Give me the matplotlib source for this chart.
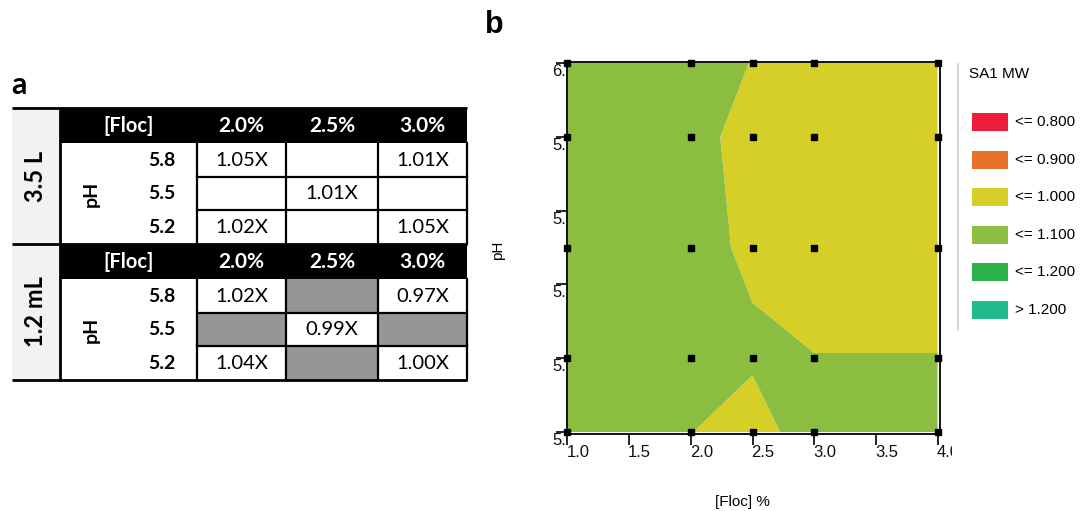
import matplotlib
matplotlib.use("Agg")
import matplotlib.pyplot as plt
import numpy as np
from matplotlib.patches import Rectangle
from matplotlib.transforms import offset_copy, Bbox

# ---------------- data ----------------
# Table (panel a): fold change in SA1 MW per scale, pH row and flocculant column
floc_cols = ["2.0%", "2.5%", "3.0%"]
ph_rows = ["5.8", "5.5", "5.2"]
scales = ["3.5 L", "1.2 mL"]
fold_3p5L = [["1.05X", "", "1.01X"],
             ["", "1.01X", ""],
             ["1.02X", "", "1.05X"]]
# None marks a condition that was not run (grey cell)
fold_1p2mL = [["1.02X", None, "0.97X"],
              [None, "0.99X", None],
              ["1.04X", None, "1.00X"]]

# Contour (panel b): SA1 MW response over the design grid
floc_pct = [1.0, 2.0, 2.5, 3.0, 4.0]
ph_grid = [5.0, 5.2, 5.5, 5.8, 6.0]
sa1_mw = [  # one row per pH (5.0 -> 6.0), one column per [Floc] %
    [1.060, 1.0014, 0.9665, 1.041, 1.040],
    [1.060, 1.040, 1.010, 1.002, 1.002],
    [1.060, 1.0186, 0.990, 0.960, 0.960],
    [1.060, 1.020, 0.978, 0.970, 0.965],
    [1.060, 1.047, 0.997, 0.960, 0.960],
]
level_edges = [0.7, 0.8, 0.9, 1.0, 1.1, 1.2, 1.3]
level_colors = ["#EE1C3B", "#E8722A", "#D6CF27", "#8BBD40", "#2BB24B", "#20BB8C"]
level_labels = ["<= 0.800", "<= 0.900", "<= 1.000", "<= 1.100", "<= 1.200", "> 1.200"]
x_ticks = [1.0, 1.5, 2.0, 2.5, 3.0, 3.5, 4.0]
x_ticklabels = ["1.0", "1.5", "2.0", "2.5", "3.0", "3.5", "4.0"]
y_ticks = [5.0, 5.2, 5.4, 5.6, 5.8, 6.0]
y_ticklabels = ["5.0", "5.2", "5.4", "5.6", "5.8", "6.0"]

W, H = 1080, 511
fig = plt.figure(figsize=(W / 100, H / 100), dpi=100)
fig.patch.set_facecolor("white")

TF = ["Lato", "DejaVu Sans"]
AF = ["Liberation Sans", "DejaVu Sans"]

# ---------------- panel b: contour ----------------
L, R, B, T = 567.5, 940.0, 433.5, 61.9
ax = fig.add_axes([L / W, (H - B) / H, (R - L) / W, (B - T) / H])
Xg, Yg = np.meshgrid(floc_pct, ph_grid)
Z = np.array(sa1_mw)
ax.contourf(Xg, Yg, Z, levels=level_edges, colors=level_colors, antialiased=True)
ax.plot(Xg.ravel(), Yg.ravel(), "s", ms=4.2, color="black", clip_on=False, zorder=5)
ax.set_xlim(1.0, 4.02)
ax.set_ylim(4.996, 6.003)
for s in ax.spines.values():
    s.set_linewidth(1.3)
    s.set_color("black")
ax.set_xticks(x_ticks)
ax.set_yticks(y_ticks)
ax.set_xticklabels([])
ax.set_yticklabels([])
ax.tick_params(axis="both", direction="out", length=8, width=1.2, color="black")

clip = Bbox.from_extents(0, 0, 952, H)
xt = offset_copy(ax.get_xaxis_transform(), fig=fig, x=-1, y=-11, units="dots")
for v, s in zip(x_ticks, x_ticklabels):
    t = ax.text(v, 0, s, transform=xt, ha="left", va="top", fontsize=12,
                family=AF, color="#111111")
    t.set_clip_box(clip)
    t.set_clip_on(True)

yclip = Bbox.from_extents(0, 0, 566, H)
yt = offset_copy(ax.get_yaxis_transform(), fig=fig, x=-15.5, y=-1, units="dots")
for v, s in zip(y_ticks, y_ticklabels):
    t = ax.text(0, v, s, transform=yt, ha="left", va="top", fontsize=12,
                family=AF, color="#111111")
    t.set_clip_box(yclip)
    t.set_clip_on(True)

# ---------------- overlay in pixel units ----------------
ov = fig.add_axes([0, 0, 1, 1], zorder=10)
ov.set_xlim(0, W)
ov.set_ylim(H, 0)
ov.axis("off")
ov.patch.set_visible(False)

ov.text(498, 250, "pH", rotation=90, ha="center", va="center", fontsize=11, family=AF)
ov.text(742, 502, "[Floc] %", ha="center", va="center", fontsize=11, family=AF)

# legend
ov.plot([958, 958], [64, 330], color="#CCCCCC", lw=1.2)
ov.text(969, 74, "SA1 MW", ha="left", va="center", fontsize=11, family=AF)
for i, (c, lab) in enumerate(zip(level_colors, level_labels)):
    yc = 122 + i * 37.6
    ov.add_patch(Rectangle((972, yc - 9), 36, 18, fc=c, ec="none"))
    ov.text(1015, yc, lab, ha="left", va="center", fontsize=11, family=AF)

# panel letters
ov.text(19, 85, "a", ha="center", va="center", fontsize=22, fontweight="bold", family=TF)
ov.text(494, 25, "b", ha="center", va="center", fontsize=22, fontweight="bold", family=AF)

# ---------------- panel a: table ----------------
x_left, x_side, x_ph = 12, 59.5, 197
col_edges = [197, 286, 378, 467]
top = 108
head_h, row_h = 35.5, 33.5
block_h = head_h + 3 * row_h
ov.add_patch(Rectangle((x_left, top), x_side - x_left, 2 * block_h, fc="#F2F2F2", ec="none"))

for b, (scale, grid) in enumerate(zip(scales, [fold_3p5L, fold_1p2mL])):
    y0 = top + b * block_h
    ov.add_patch(Rectangle((x_side, y0), col_edges[-1] - x_side, head_h, fc="black", ec="none"))
    ov.text((x_side + x_ph) / 2, y0 + head_h / 2, "[Floc]", color="white", ha="center",
            va="center", fontsize=14.5, fontweight="bold", family=TF)
    for j, lab in enumerate(floc_cols):
        xc = (col_edges[j] + col_edges[j + 1]) / 2
        ov.text(xc, y0 + head_h / 2, lab, color="white", ha="center", va="center",
                fontsize=15, fontweight="bold", family=TF)
    ov.text((x_left + x_side) / 2, y0 + block_h / 2, scale, rotation=90, ha="center",
            va="center", fontsize=17, fontweight="bold", family=TF)
    ov.text(91, y0 + head_h + 1.5 * row_h, "pH", rotation=90, ha="center", va="center",
            fontsize=14, fontweight="bold", family=TF)
    for i, ph in enumerate(ph_rows):
        yr = y0 + head_h + i * row_h
        ov.text(175, yr + row_h / 2, ph, ha="right", va="center", fontsize=14,
                fontweight="bold", family=TF)
        for j in range(3):
            val = grid[i][j]
            if val is None:
                ov.add_patch(Rectangle((col_edges[j], yr), col_edges[j + 1] - col_edges[j],
                                       row_h, fc="#969696", ec="none"))
            elif val:
                ov.text((col_edges[j] + col_edges[j + 1]) / 2, yr + row_h / 2, val,
                        ha="center", va="center", fontsize=14.5, family=TF)
    # cell borders
    yb = y0 + head_h
    for k in range(1, 3):
        ov.plot([x_ph, col_edges[-1]], [yb + k * row_h] * 2, color="black", lw=1.6)
    for xe in col_edges:
        ov.plot([xe, xe], [yb, y0 + block_h], color="black", lw=1.6)

for yl in [top, top + block_h, top + 2 * block_h]:
    ov.plot([x_left, col_edges[-1]], [yl, yl], color="black", lw=2.0, solid_capstyle="butt")
ov.plot([x_side, x_side], [top, top + 2 * block_h], color="black", lw=2.0)

fig.savefig("out.png", dpi=100)
